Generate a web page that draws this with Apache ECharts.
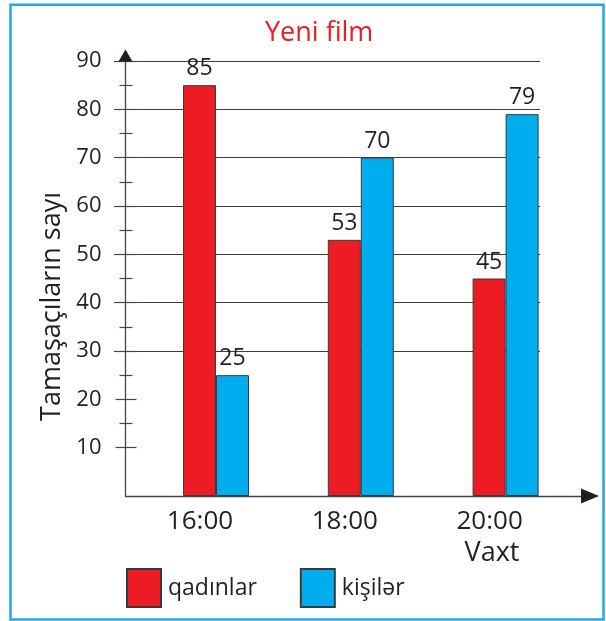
<!DOCTYPE html>
<html><head><meta charset="utf-8">
<script src="https://cdn.jsdelivr.net/npm/echarts@6/dist/echarts.min.js"></script>
<style>html,body{margin:0;padding:0;background:#fff}#c{width:606px;height:621px}</style>
</head><body><div id="c"></div>
<script>
// ---- data ----
const categories = ['16:00', '18:00', '20:00'];
const women = [85, 53, 45];
const men = [25, 70, 79];
const seriesNames = ['qadınlar', 'kişilər'];
const yMin = 0, yMax = 90, yStep = 10;
const gridLineFrom = 30;   // horizontal guide lines drawn from this value up
const tickFrom = 10;       // axis ticks drawn from this value up
const titleText = 'Yeni film';
const yName = 'Tamaşaçıların sayı';
const xName = 'Vaxt';

// ---- style / layout ----
const FONT = '"Open Sans", sans-serif';
const TXT = '#231F20';
const LINE = '#454545';
const RED = '#ED1C24', BLUE = '#00AEEF';
const W = 606, H = 621;
const TOP = 61, BASE = 496;
const AXIS_X = 125.5, PLOT_L = 143.6, PLOT_R = 578, XLINE_END = 581;
const pxPer = (BASE - TOP) / (yMax - yMin);
const yAt = v => BASE - (v - yMin) * pxPer;

const chart = echarts.init(document.getElementById('c'), null, {renderer: 'canvas'});
chart.setOption({
  backgroundColor: '#fff',
  animation: false,
  title: {
    text: titleText, left: 265, top: 20, padding: 0,
    textStyle: {color: RED, fontFamily: FONT, fontSize: 27, fontWeight: 'normal'}
  },
  legend: {
    left: 126, top: 568, padding: 0, icon: 'rect', itemWidth: 34, itemHeight: 38, itemGap: 43,
    data: seriesNames,
    textStyle: {color: TXT, fontFamily: FONT, fontSize: 23, padding: [0, 0, 0, 2]}
  },
  graphic: [
    {
      type: 'rect', silent: true, z: -1,
      shape: {x: 10.5, y: 4.8, width: 593, height: 614.7},
      style: {fill: 'none', stroke: '#1EABE3', lineWidth: 2.5}
    },
    { // y-axis arrow head
      type: 'polygon', silent: true, z: 10,
      shape: {points: [[AXIS_X - 7, TOP + 0.5], [AXIS_X + 7, TOP + 0.5], [AXIS_X, TOP - 11.5]]},
      style: {fill: TXT}
    },
    { // x-axis arrow head
      type: 'polygon', silent: true, z: 10,
      shape: {points: [[XLINE_END, BASE - 7.5], [XLINE_END, BASE + 7.5], [XLINE_END + 18, BASE]]},
      style: {fill: TXT}
    }
  ],
  grid: [
    {left: PLOT_L, right: W - PLOT_R, top: TOP, bottom: H - BASE},              // bars
    {left: 114, right: W - 540, top: TOP, bottom: H - yAt(gridLineFrom)},      // guide lines
    {left: AXIS_X, right: W - XLINE_END, top: 300, bottom: H - BASE},          // x axis line
    {left: AXIS_X, right: W - PLOT_R, top: TOP, bottom: H - yAt(tickFrom)}     // ticks
  ],
  xAxis: [
    {
      gridIndex: 0, type: 'category', data: categories,
      axisLine: {show: false}, axisTick: {show: false},
      axisLabel: {color: TXT, fontFamily: FONT, fontSize: 26, margin: 13, padding: [0, 32, 0, 0]},
      name: xName, nameLocation: 'end', nameGap: 492 - PLOT_R,
      nameTextStyle: {color: TXT, fontFamily: FONT, fontSize: 27, align: 'center', verticalAlign: 'top', padding: [44, 0, 0, 0]}
    },
    {gridIndex: 1, type: 'value', show: false},
    {
      gridIndex: 2, type: 'value', min: 0, max: 1,
      axisLine: {show: true, onZero: false, lineStyle: {color: LINE, width: 1.3}},
      axisTick: {show: false}, axisLabel: {show: false}, splitLine: {show: false}
    },
    {gridIndex: 3, type: 'value', show: false}
  ],
  yAxis: [
    {
      gridIndex: 0, type: 'value', min: yMin, max: yMax, interval: yStep, position: 'left', offset: PLOT_L - AXIS_X,
      axisLine: {show: true, lineStyle: {color: LINE, width: 1.3}},
      axisTick: {show: false}, splitLine: {show: false},
      axisLabel: {color: TXT, fontFamily: FONT, fontSize: 22, margin: 24, showMinLabel: false},
      name: yName, nameLocation: 'middle', nameRotate: 90, nameGap: 57,
      nameTextStyle: {color: TXT, fontFamily: FONT, fontSize: 27, padding: [0, 56, 0, 0]}
    },
    {
      gridIndex: 1, type: 'value', min: gridLineFrom, max: yMax, interval: yStep,
      axisLine: {show: false}, axisTick: {show: false}, axisLabel: {show: false},
      splitLine: {show: true, showMinLine: true, showMaxLine: true, lineStyle: {color: '#3c3c3c', width: 1.2}}
    },
    {gridIndex: 2, type: 'value', show: false},
    {
      gridIndex: 3, type: 'value', min: tickFrom, max: yMax, interval: yStep, position: 'left',
      axisLine: {show: false}, axisLabel: {show: false}, splitLine: {show: false},
      axisTick: {show: true, inside: false, length: 10, lineStyle: {color: LINE, width: 1.2}},
      minorTick: {show: true, splitNumber: 2, length: 6, lineStyle: {color: LINE, width: 1.2}}
    },
    {
      gridIndex: 3, type: 'value', min: tickFrom, max: yMax, interval: yStep, position: 'left',
      axisLine: {show: false}, axisLabel: {show: false}, splitLine: {show: false},
      axisTick: {show: true, inside: true, length: 11, lineStyle: {color: LINE, width: 1.2}},
      minorTick: {show: true, splitNumber: 2, length: 7, lineStyle: {color: LINE, width: 1.2}}
    }
  ],
  series: [
    {
      name: seriesNames[0], type: 'bar', xAxisIndex: 0, yAxisIndex: 0, data: women,
      barWidth: 33, barGap: '0%',
      itemStyle: {color: RED, borderColor: '#3a3a3a', borderWidth: 1},
      label: {show: true, position: 'top', distance: 5, color: TXT, fontFamily: FONT, fontSize: 23}
    },
    {
      name: seriesNames[1], type: 'bar', xAxisIndex: 0, yAxisIndex: 0, data: men,
      barWidth: 33, barGap: '0%',
      itemStyle: {color: BLUE, borderColor: '#3a3a3a', borderWidth: 1},
      label: {show: true, position: 'top', distance: 5, color: TXT, fontFamily: FONT, fontSize: 23}
    }
  ]
});
</script>
</body></html>
